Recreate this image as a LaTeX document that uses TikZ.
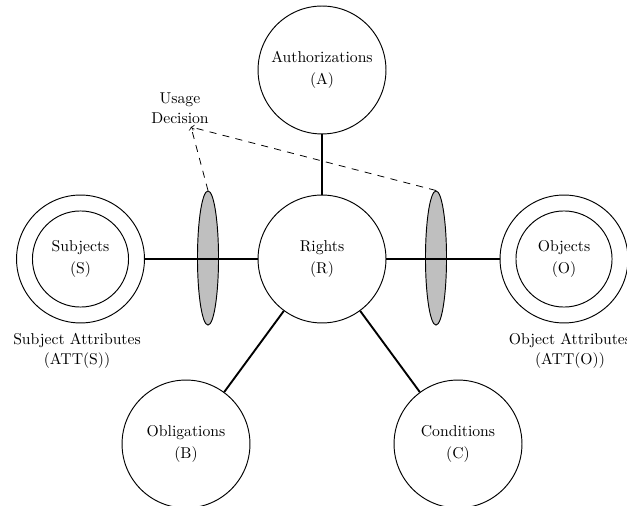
\documentclass[tikz,border=0pt]{standalone}
\usetikzlibrary{shapes.geometric}
\begin{document}
\begin{tikzpicture}[x=0.637pt,y=-0.637pt,
  ring/.style={circle,draw,line width=0.6pt,minimum size=81.5pt,inner sep=0pt,align=center},
  inner ring/.style={circle,draw,line width=0.6pt,minimum size=61.2pt,inner sep=0pt,align=center},
  gate/.style={ellipse,draw,line width=0.6pt,fill=gray!50,minimum width=13.4pt,minimum height=85.4pt,inner sep=0pt},
  link/.style={line width=1.2pt},
  hint/.style={dashed,dash pattern=on 4.5pt off 4pt,line width=0.5pt,->},
  caption/.style={align=center}]
\useasboundingbox (0,0) rectangle (627,506);

% central and surrounding circles
\node[ring] (R) at (322,259) {Rights\\[2pt](R)};
\node[ring] (A) at (322,70) {Authorizations\\[2pt](A)};
\node[ring] (B) at (186,444) {Obligations\\[2pt](B)};
\node[ring] (C) at (458,444) {Conditions\\[2pt](C)};
\node[ring] (S) at (80.5,259) {};
\node[inner ring] (Si) at (80.5,259) {Subjects\\[2pt](S)};
\node[ring] (O) at (564,259) {};
\node[inner ring] (Oi) at (564,259) {Objects\\[2pt](O)};

% attribute captions
\node[caption] (SA) at (77,351) {Subject Attributes\\[1pt](ATT(S))};
\node[caption] (OA) at (570,351) {Object Attributes\\[1pt](ATT(O))};

% decision points on the access paths
\node[gate] (GS) at (208,258) {};
\node[gate] (GO) at (436,258) {};

% connectors
\draw[link] (A) -- (R);
\draw[link] (S) -- (R);
\draw[link] (R) -- (O);
\draw[link] (R) -- (B);
\draw[link] (R) -- (C);

% usage decision label and pointers
\node[caption] (UD) at (180,108) {Usage\\[1pt]Decision};
\coordinate (UDp) at (191,127);
\draw[hint] (GS.north) -- (UDp);
\draw[hint] (GO.north) -- (UDp);
\end{tikzpicture}
\end{document}
